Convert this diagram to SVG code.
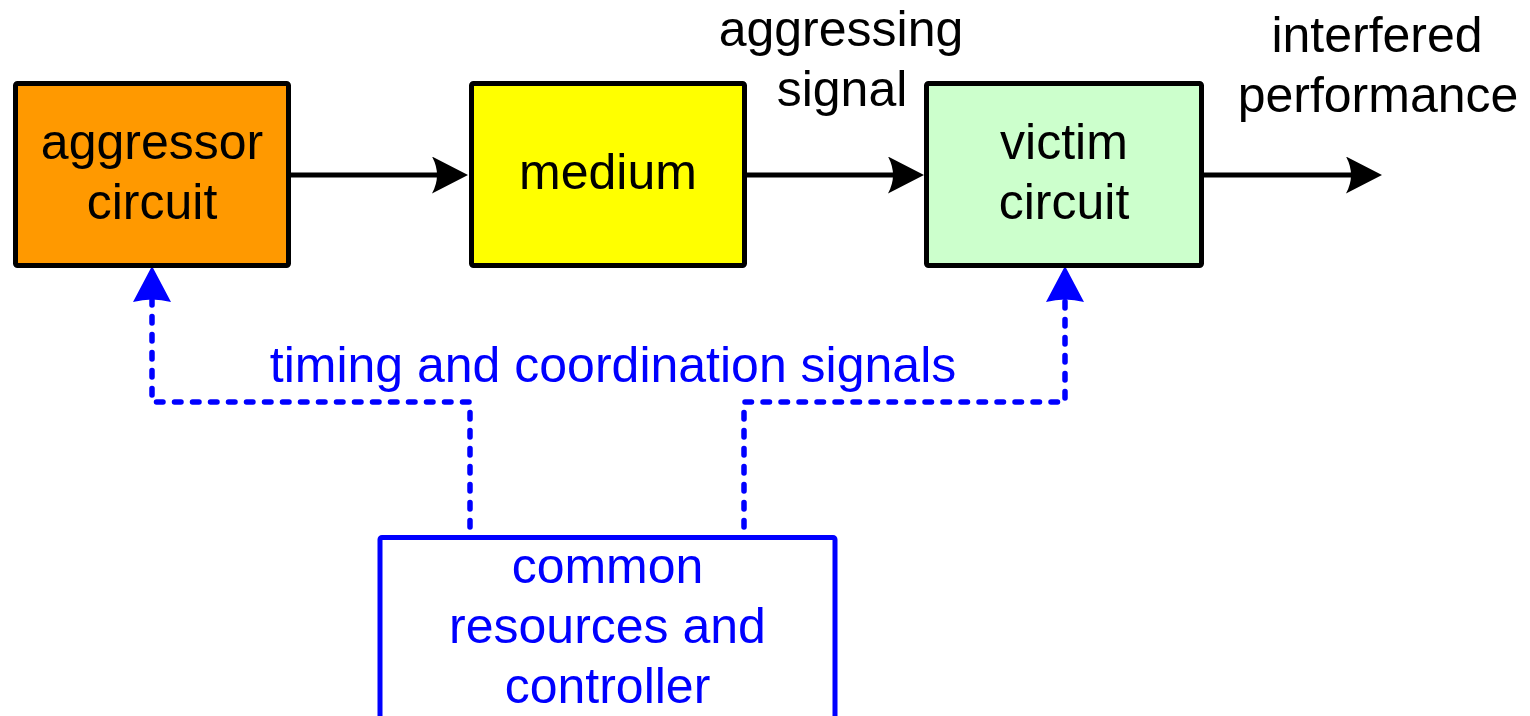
<svg xmlns="http://www.w3.org/2000/svg" width="1530" height="716" viewBox="0 0 1530 716">
  <style>
    .box { stroke: #000; stroke-width: 5; }
    .txt { font-family: "Liberation Sans", Arial, sans-serif; font-size: 50px; text-anchor: middle; fill: #000; }
    .blue { fill: #0000FF; }
    .flow { stroke: #000; stroke-width: 5; fill: none; }
    .ctrl { stroke: #0000FF; stroke-width: 5.5; fill: none; stroke-dasharray: 6.5 11.5; stroke-linecap: round; stroke-linejoin: round; }
  </style>
  <defs>
    <!-- tip sits 10px beyond the path end so the line never pokes past it -->
    <marker id="headBlack" markerUnits="userSpaceOnUse" markerWidth="36" markerHeight="37" refX="26" refY="18.5" orient="auto" viewBox="0 0 36 37">
      <path d="M36,18.5 L0,0 Q10,18.5 0,37 Z" fill="#000"/>
    </marker>
    <marker id="headBlue" markerUnits="userSpaceOnUse" markerWidth="36" markerHeight="38" refX="36" refY="19" orient="auto" viewBox="0 0 36 38">
      <path d="M36,19 L0,0 Q5,19 0,38 Z" fill="#0000FF"/>
    </marker>
  </defs>
  <rect width="1530" height="716" fill="#fff"/>

  <g id="connectors">
    <path class="flow" d="M291,175 H458" marker-end="url(#headBlack)"/>
    <path class="flow" d="M747,175 H914" marker-end="url(#headBlack)"/>
    <path class="flow" d="M1204,175 H1372" marker-end="url(#headBlack)"/>
    <path class="ctrl" d="M470,527 V402 H152 V300"/>
    <path d="M152,302 V266" stroke="none" fill="none" marker-end="url(#headBlue)"/>
    <path class="ctrl" d="M744,527 V402 H1065 V300"/>
    <path d="M1065,302 V266" stroke="none" fill="none" marker-end="url(#headBlue)"/>
  </g>

  <g id="aggressor">
    <rect class="box" x="15.5" y="83.5" width="273" height="182" rx="2" fill="#FF9900"/>
    <text class="txt" x="152" y="159">aggressor</text>
    <text class="txt" x="152" y="219">circuit</text>
  </g>

  <g id="medium">
    <rect class="box" x="471.5" y="83.5" width="273" height="182" rx="2" fill="#FFFF00"/>
    <text class="txt" x="608" y="189">medium</text>
  </g>

  <g id="victim">
    <rect class="box" x="926.5" y="83.5" width="275" height="182" rx="2" fill="#CCFFCC"/>
    <text class="txt" x="1064" y="159">victim</text>
    <text class="txt" x="1064" y="219">circuit</text>
  </g>

  <g id="label-aggressing-signal">
    <text class="txt" x="841" y="46">aggressing</text>
    <text class="txt" x="842" y="106">signal</text>
  </g>

  <g id="label-interfered-performance">
    <text class="txt" x="1377" y="52">interfered</text>
    <text class="txt" x="1378" y="112">performance</text>
  </g>

  <g id="label-timing">
    <text class="txt blue" x="613" y="382">timing and coordination signals</text>
  </g>

  <g id="controller">
    <rect x="380" y="537.5" width="455" height="200" rx="2" fill="#fff" stroke="#0000FF" stroke-width="5"/>
    <text class="txt blue" x="607.5" y="583">common</text>
    <text class="txt blue" x="607.5" y="643">resources and</text>
    <text class="txt blue" x="607.5" y="703">controller</text>
  </g>
</svg>
